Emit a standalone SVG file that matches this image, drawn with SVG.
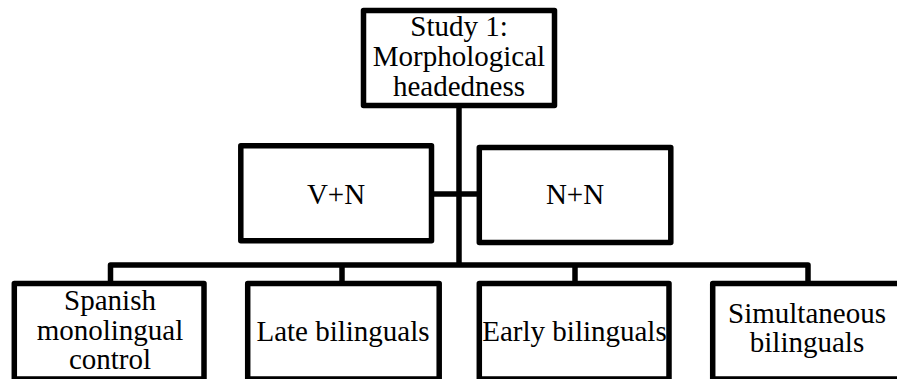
<svg xmlns="http://www.w3.org/2000/svg" width="897" height="379" viewBox="0 0 897 379">
  <style>
    .box { fill: #ffffff; stroke: #000000; stroke-width: 5.5; stroke-linejoin: round; }
    .wire { fill: none; stroke: #000000; stroke-width: 5.5; stroke-linejoin: round; stroke-linecap: butt; }
    text { font-family: 'Liberation Serif', 'DejaVu Serif', serif; font-size: 29px; fill: #000000; text-anchor: middle; }
  </style>
  <rect x="0" y="0" width="897" height="379" fill="#ffffff"/>

  <!-- connectors -->
  <g id="connectors">
    <path class="wire" d="M459,108 V266"/>
    <path class="wire" d="M434,194 H477"/>
    <path class="wire" d="M110.5,283 V265 H808 V283"/>
    <path class="wire" d="M342,265 V283"/>
    <path class="wire" d="M575,265 V283"/>
  </g>

  <g font-family="Liberation Serif, DejaVu Serif, serif" font-size="29">
    <!-- root -->
    <g id="study1">
      <rect class="box" x="363.5" y="10.5" width="191" height="95"/>
      <text x="459" y="36">Study 1:</text>
      <text x="459" y="66">Morphological</text>
      <text x="459" y="96">headedness</text>
    </g>

    <!-- compound types -->
    <g id="vn">
      <rect class="box" x="240.8" y="145.8" width="190.7" height="95"/>
      <text x="336" y="203.5">V+N</text>
    </g>
    <g id="nn">
      <rect class="box" x="479.3" y="147.5" width="191.5" height="95"/>
      <text x="575" y="203.5">N+N</text>
    </g>

    <!-- participant groups -->
    <g id="spanish">
      <rect class="box" x="14.3" y="283.5" width="189.7" height="95.5"/>
      <text x="110" y="310">Spanish</text>
      <text x="110" y="340">monolingual</text>
      <text x="110" y="369">control</text>
    </g>
    <g id="late">
      <rect class="box" x="247.7" y="283.5" width="191.5" height="95.5"/>
      <text x="343" y="341">Late bilinguals</text>
    </g>
    <g id="early">
      <rect class="box" x="479.3" y="283.5" width="189.7" height="95.5"/>
      <text x="574.5" y="341">Early bilinguals</text>
    </g>
    <g id="simultaneous">
      <rect class="box" x="712.7" y="283.5" width="192" height="95.5"/>
      <text x="807" y="323">Simultaneous</text>
      <text x="807" y="352">bilinguals</text>
    </g>
  </g>
</svg>
